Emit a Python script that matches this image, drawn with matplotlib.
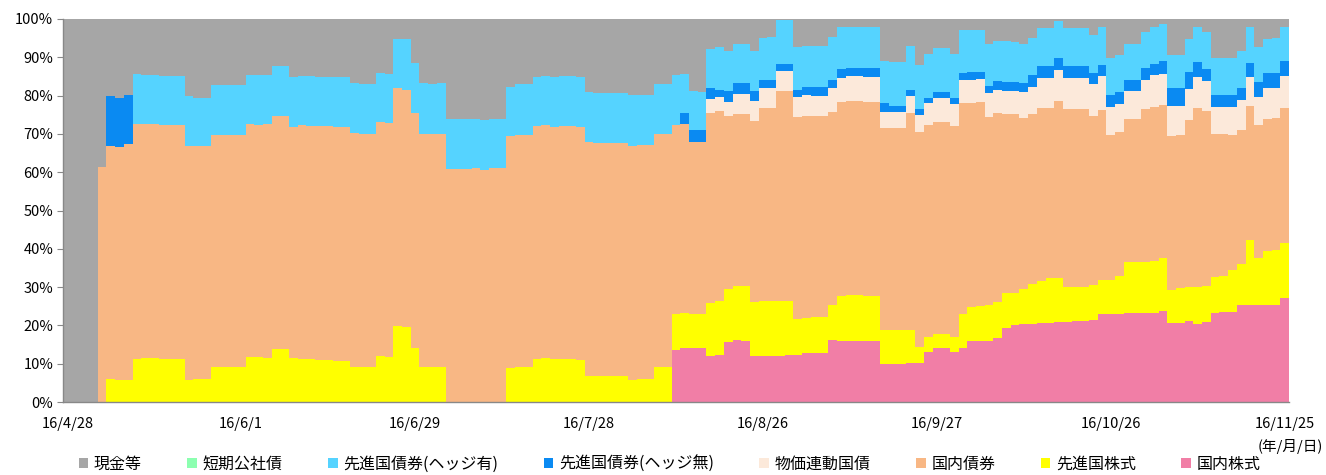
"""
stacked daily asset allocation, 16/4/28 - 16/11/25
"""
import matplotlib
matplotlib.use("Agg")
import matplotlib.pyplot as plt
from matplotlib.patches import Patch
import numpy as np

plt.rcParams["font.family"] = ["Noto Sans CJK JP", "DejaVu Sans"]

# business days (year 2016), month -> day
month_days = {
    4: [28],
    5: [2, 6, 9, 10, 11, 12, 13, 16, 17, 18, 19, 20, 23, 24, 25, 26, 27, 30, 31],
    6: [1, 2, 3, 6, 7, 8, 9, 10, 13, 14, 15, 16, 17, 20, 21, 22, 23, 24, 27, 28, 29, 30],
    7: [1, 4, 5, 6, 7, 8, 11, 12, 13, 14, 15, 19, 20, 21, 22, 25, 26, 27, 28, 29],
    8: [1, 2, 3, 4, 5, 8, 9, 10, 12, 15, 16, 17, 18, 19, 22, 23, 24, 25, 26, 29, 30, 31],
    9: [1, 2, 5, 6, 7, 8, 9, 12, 13, 14, 15, 16, 20, 21, 23, 26, 27, 28, 29, 30],
    10: [3, 4, 5, 6, 7, 11, 12, 13, 14, 17, 18, 19, 20, 21, 24, 25, 26, 27, 28, 31],
    11: [1, 2, 4, 7, 8, 9, 10, 11, 14, 15, 16, 17, 18, 21, 22, 24, 25],
}
dates = ["16/%d/%d" % (m, d) for m, days in month_days.items() for d in days]

# values in %, one per business day
domestic_stock = [
    0, 0, 0, 0, 0, 0, 0, 0, 0, 0, 0, 0, 0, 0, 0, 0, 0, 0, 0, 0,
    0, 0, 0, 0, 0, 0, 0, 0, 0, 0, 0, 0, 0, 0, 0, 0, 0, 0, 0, 0,
    0, 0, 0, 0, 0, 0, 0, 0, 0, 0, 0, 0, 0, 0, 0, 0, 0, 0, 0, 0,
    0, 0, 0, 0, 0, 0, 0, 0, 0, 0, 13.6, 14.2, 14.0, 14.0, 12.0, 12.4, 15.6, 16.2, 16.0, 12.0,
    12.0, 12.1, 12.1, 12.2, 12.4, 12.8, 12.9, 12.9, 16.2, 16.0, 16.0, 16.0, 15.8, 15.8, 9.9, 9.8, 9.9, 10.1, 10.3, 13.1,
    14.0, 14.0, 13.0, 14.0, 15.8, 15.9, 16.0, 16.8, 19.2, 20.1, 20.4, 20.4, 20.5, 20.7, 20.8, 21.0, 21.1, 21.1, 21.4, 22.9,
    22.9, 22.9, 23.2, 23.2, 23.2, 23.2, 23.8, 20.5, 20.7, 21.2, 20.4, 21.0, 23.3, 23.6, 23.6, 25.2, 25.2, 25.2, 25.3, 25.3,
    27.1,
]
foreign_stock = [
    0, 0, 0, 0, 0, 6.0, 5.8, 5.8, 11.3, 11.5, 11.5, 11.3, 11.3, 11.3, 5.7, 6.0, 6.0, 9.2, 9.2, 9.2,
    9.2, 11.8, 11.7, 11.6, 13.9, 13.9, 11.4, 11.3, 11.1, 10.9, 10.9, 10.7, 10.7, 9.2, 9.2, 9.2, 12.0, 11.7, 19.8, 19.6,
    14.2, 9.1, 9.1, 9.1, 0, 0, 0, 0, 0, 0, 0, 8.8, 9.1, 9.1, 11.2, 11.4, 11.1, 11.1, 11.1, 11.0,
    6.8, 6.8, 6.8, 6.7, 6.7, 5.8, 5.9, 5.9, 9.1, 9.1, 9.3, 9.0, 8.9, 8.9, 13.8, 14.0, 13.9, 14.0, 14.2, 14.0,
    14.4, 14.4, 14.4, 14.3, 9.3, 9.1, 9.2, 9.2, 9.0, 11.7, 11.9, 11.9, 11.9, 11.9, 9.0, 9.1, 9.0, 8.8, 4.0, 4.0,
    3.7, 3.7, 4.1, 9.0, 9.1, 9.2, 9.3, 9.4, 9.3, 8.4, 9.1, 10.3, 11.2, 11.8, 11.7, 9.1, 9.0, 9.0, 9.1, 9.0,
    9.0, 10.0, 13.3, 13.3, 13.3, 13.6, 13.7, 8.7, 9.0, 8.7, 9.7, 9.4, 9.4, 9.4, 10.9, 10.8, 17.1, 12.3, 14.0, 14.4,
    14.3,
]
domestic_bond = [
    0, 0, 0, 0, 61.4, 60.8, 60.9, 61.6, 61.3, 61.0, 61.0, 61.0, 61.0, 61.0, 61.1, 60.9, 60.9, 60.6, 60.6, 60.6,
    60.6, 60.8, 60.7, 60.9, 60.8, 60.8, 60.3, 60.9, 61.0, 61.1, 61.1, 61.1, 61.1, 61.0, 60.9, 60.9, 61.0, 61.1, 62.1, 61.9,
    61.2, 61.0, 60.8, 60.8, 60.8, 60.9, 60.9, 61.0, 60.6, 61.0, 61.0, 60.6, 60.6, 60.7, 60.9, 60.8, 60.8, 60.9, 60.9, 60.9,
    61.0, 60.9, 60.9, 60.9, 60.9, 61.1, 61.1, 61.1, 60.8, 60.8, 49.4, 49.4, 45.1, 45.1, 49.6, 49.5, 45.2, 45.0, 45.0, 47.4,
    50.4, 50.3, 54.7, 54.7, 52.6, 52.8, 52.6, 52.6, 50.6, 50.5, 50.7, 50.7, 50.5, 50.5, 52.6, 52.6, 52.6, 56.6, 56.3, 55.2,
    55.3, 55.3, 55.0, 55.0, 53.1, 53.1, 49.2, 49.2, 46.8, 46.6, 44.6, 44.5, 45.0, 44.3, 46.1, 46.4, 46.4, 46.4, 44.3, 44.3,
    37.8, 37.7, 37.4, 37.4, 39.9, 40.1, 40.0, 40.3, 39.9, 43.7, 46.6, 45.6, 37.2, 37.0, 35.2, 35.0, 35.0, 34.8, 34.6, 34.5,
    35.3,
]
inflation_linked = [
    0, 0, 0, 0, 0, 0, 0, 0, 0, 0, 0, 0, 0, 0, 0, 0, 0, 0, 0, 0,
    0, 0, 0, 0, 0, 0, 0, 0, 0, 0, 0, 0, 0, 0, 0, 0, 0, 0, 0, 0,
    0, 0, 0, 0, 0, 0, 0, 0, 0, 0, 0, 0, 0, 0, 0, 0, 0, 0, 0, 0,
    0, 0, 0, 0, 0, 0, 0, 0, 0, 0, 0, 0, 0, 0, 3.7, 3.8, 3.7, 5.3, 5.3, 5.2,
    5.3, 5.3, 5.3, 5.3, 5.4, 5.5, 5.3, 5.3, 6.3, 6.5, 6.4, 6.4, 6.7, 6.7, 4.3, 4.3, 4.3, 4.4, 4.3, 5.7,
    6.3, 6.3, 5.7, 6.1, 6.2, 6.1, 6.3, 6.1, 5.9, 6.1, 6.8, 7.1, 7.8, 7.9, 8.1, 8.2, 8.2, 8.2, 8.1, 8.9,
    7.4, 7.1, 7.3, 7.3, 7.8, 8.5, 8.1, 7.9, 7.8, 8.1, 8.2, 7.9, 7.2, 7.1, 7.4, 7.9, 7.6, 7.4, 8.0, 7.7,
    8.4,
]
foreign_bond_unhedged = [
    0, 0, 0, 0, 0, 13.1, 12.8, 12.8, 0, 0, 0, 0, 0, 0, 0, 0, 0, 0, 0, 0,
    0, 0, 0, 0, 0, 0, 0, 0, 0, 0, 0, 0, 0, 0, 0, 0, 0, 0, 0, 0,
    0, 0, 0, 0, 0, 0, 0, 0, 0, 0, 0, 0, 0, 0, 0, 0, 0, 0, 0, 0,
    0, 0, 0, 0, 0, 0, 0, 0, 0, 0, 0, 2.9, 2.9, 2.9, 3.0, 1.8, 2.8, 2.8, 2.8, 2.6,
    2.0, 2.0, 1.8, 1.8, 1.8, 2.0, 2.3, 2.3, 2.0, 2.2, 2.2, 2.2, 2.3, 2.3, 2.3, 1.6, 1.6, 1.6, 1.5, 1.5,
    1.7, 1.7, 1.7, 1.7, 1.9, 1.9, 1.7, 2.3, 2.4, 2.4, 2.3, 3.0, 3.2, 3.0, 3.0, 3.0, 3.0, 3.0, 2.9, 2.9,
    3.1, 3.2, 2.9, 2.9, 3.1, 2.9, 3.5, 4.5, 4.5, 4.4, 3.8, 3.1, 3.1, 3.1, 3.1, 3.2, 3.7, 3.9, 3.9, 3.9,
    3.9,
]
foreign_bond_hedged = [
    0, 0, 0, 0, 0, 0, 0, 0, 13.0, 12.9, 12.9, 12.9, 12.9, 12.9, 13.1, 12.6, 12.6, 12.9, 12.9, 12.9,
    12.9, 12.7, 13.0, 12.9, 12.9, 12.9, 13.1, 13.0, 12.9, 12.9, 12.9, 13.0, 13.0, 13.1, 13.0, 13.0, 12.8, 12.8, 12.9, 13.2,
    13.1, 13.1, 13.2, 13.3, 13.2, 13.1, 13.1, 12.9, 12.9, 13.0, 13.0, 12.9, 13.2, 13.1, 12.8, 12.9, 13.0, 13.1, 13.1, 13.0,
    13.1, 13.1, 13.1, 13.1, 13.1, 13.2, 13.1, 13.1, 13.0, 13.0, 13.1, 10.2, 10.3, 10.1, 10.1, 11.3, 10.4, 10.3, 10.3, 10.4,
    11.0, 11.2, 11.4, 11.4, 11.3, 10.8, 10.7, 10.7, 11.1, 10.9, 10.8, 10.8, 10.8, 10.8, 10.9, 11.5, 11.3, 11.4, 11.6, 11.4,
    11.3, 11.3, 11.4, 11.3, 11.0, 10.9, 11.1, 10.5, 10.6, 10.5, 10.4, 9.8, 9.9, 9.9, 9.9, 9.9, 9.9, 9.9, 10.0, 9.8,
    9.5, 9.7, 9.5, 9.5, 9.2, 9.5, 9.5, 8.7, 8.7, 8.7, 9.3, 9.7, 9.5, 9.5, 9.5, 9.6, 9.2, 9.2, 9.0, 9.3,
    8.8,
]
short_term_bond = [0] * len(dates)
cash = [
    100, 100, 100, 100, 38.6, 20.1, 20.5, 19.8, 14.4, 14.6, 14.6, 14.8, 14.8, 14.8, 20.1, 20.5, 20.5, 17.3, 17.3, 17.3,
    17.3, 14.7, 14.6, 14.6, 12.4, 12.4, 15.2, 14.8, 15.0, 15.1, 15.1, 15.2, 15.2, 16.7, 16.9, 16.9, 14.2, 14.4, 5.2, 5.3,
    11.5, 16.8, 16.9, 16.8, 26.0, 26.0, 26.0, 26.1, 26.5, 26.0, 26.0, 17.7, 17.1, 17.1, 15.1, 14.9, 15.1, 14.9, 14.9, 15.1,
    19.1, 19.2, 19.2, 19.3, 19.3, 19.9, 19.9, 19.9, 17.1, 17.1, 14.6, 14.3, 18.8, 19.0, 7.8, 7.2, 8.4, 6.4, 6.4, 8.4,
    4.9, 4.7, 0.3, 0.3, 7.2, 7.0, 7.0, 7.0, 4.8, 2.2, 2.0, 2.0, 2.0, 2.0, 11.0, 11.1, 11.3, 7.1, 12.0, 9.1,
    7.7, 7.7, 9.1, 2.9, 2.9, 2.9, 6.4, 5.7, 5.8, 5.9, 6.4, 4.9, 2.4, 2.4, 0.4, 2.4, 2.4, 2.4, 4.2, 2.2,
    10.3, 9.4, 6.4, 6.4, 3.5, 2.2, 1.4, 9.4, 9.4, 5.2, 2.0, 3.3, 10.3, 10.3, 10.3, 8.3, 2.2, 7.2, 5.2, 4.9,
    2.2,
]

# legend order (top of stack first)
series = [
    ("現金等", cash, "#A6A6A6"),
    ("短期公社債", short_term_bond, "#8CFFB0"),
    ("先進国債券(ヘッジ有)", foreign_bond_hedged, "#55D3FF"),
    ("先進国債券(ヘッジ無)", foreign_bond_unhedged, "#0A8AF2"),
    ("物価連動国債", inflation_linked, "#FCE9DA"),
    ("国内債券", domestic_bond, "#F8B784"),
    ("先進国株式", foreign_stock, "#FFFF00"),
    ("国内株式", domestic_stock, "#F17EA6"),
]

fig = plt.figure(figsize=(13.26, 4.75), dpi=100)
ax = fig.add_axes([63 / 1326, 73 / 475, 1226 / 1326, 383 / 475])

# each day is one full-width step (column edges at i - 0.5 .. i + 0.5)
n = len(dates)
edges = np.arange(n + 1) - 0.5
bottom = np.zeros(n)
for label, vals, color in reversed(series):
    vals = np.array(vals, dtype=float)
    top = bottom + vals
    ax.fill_between(edges, np.append(bottom, bottom[-1]), np.append(top, top[-1]),
                    step="post", facecolor=color, edgecolor="none", linewidth=0)
    bottom = top

ax.set_xlim(-0.5, n - 0.5)
ax.set_ylim(0, 100)
ax.set_yticks(np.arange(0, 101, 10))
ax.set_yticklabels(["%d%%" % v for v in range(0, 101, 10)], fontsize=10.5)
ax.set_xticks(np.arange(n)[::20])
ax.set_xticklabels(dates[::20], fontsize=10.5)
ax.tick_params(axis="x", length=0, pad=11)
ax.tick_params(axis="y", length=4, width=0.8, color="#888888", pad=3)

for side in ["top", "right"]:
    ax.spines[side].set_visible(False)
for side in ["left", "bottom"]:
    ax.spines[side].set_color("#888888")
    ax.spines[side].set_linewidth(1.0)

fig.text(1323 / 1326, 1 - 446 / 475, "(年/月/日)", ha="right", va="center", fontsize=10.5)

handles = [Patch(facecolor=c, edgecolor="none") for _, _, c in series]
labels = [name for name, _, _ in series]
fig.legend(handles, labels, loc="center", bbox_to_anchor=(0.505, 0.022), ncol=8,
           frameon=False, fontsize=11.5, handlelength=0.6, handleheight=0.6,
           handletextpad=0.35, columnspacing=2.85)

fig.savefig("out.png", dpi=100)
